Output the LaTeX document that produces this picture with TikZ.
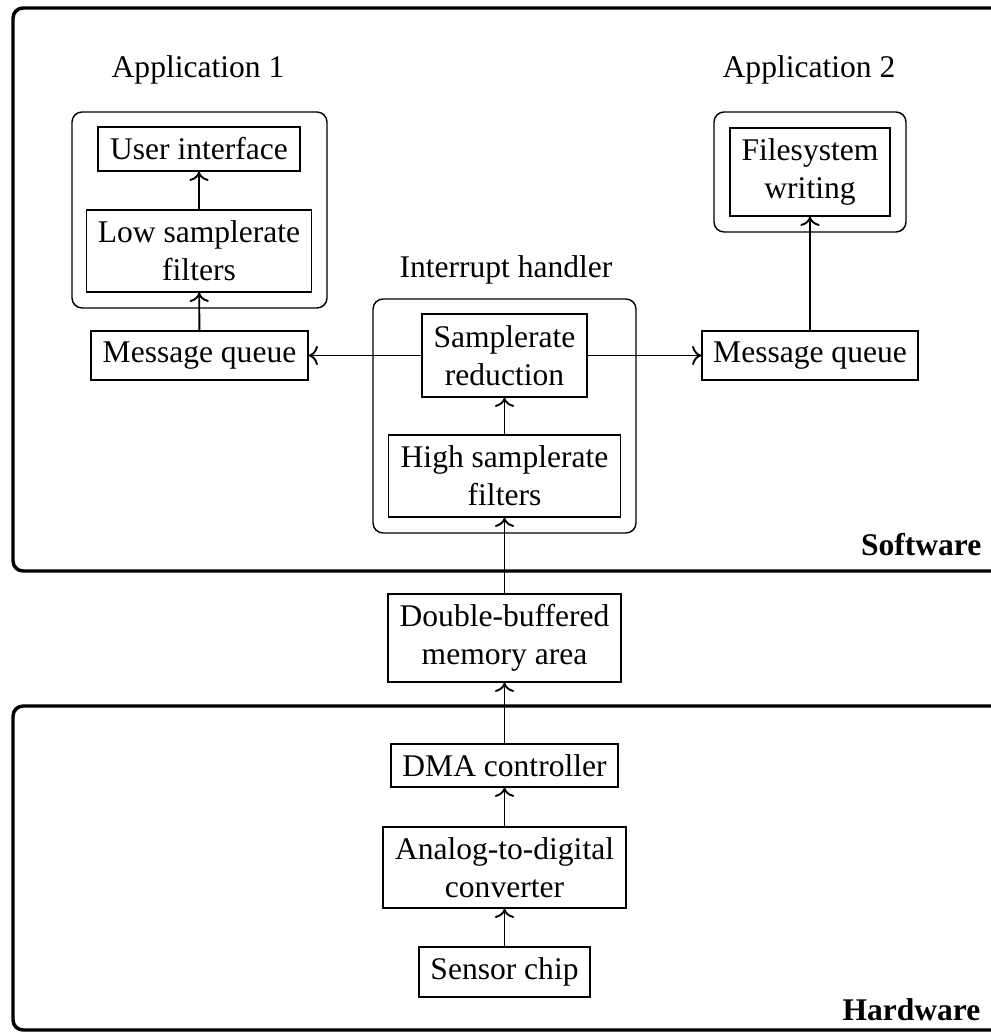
\documentclass[tikz,border=0pt]{standalone}
\usepackage{fontspec}
\setmainfont{Liberation Serif}
\usetikzlibrary{arrows.meta}
\begin{document}
\begin{tikzpicture}[x=0.317pt,y=-0.317pt,
  blk/.style={draw,line width=0.45pt,inner sep=0pt,align=center,
    font=\fontsize{10}{12}\selectfont},
  grp/.style={draw,line width=0.45pt,rounded corners=3.2pt},
  layer/.style={draw,line width=1.1pt,rounded corners=3.2pt},
  ttl/.style={anchor=base,inner sep=0pt,font=\fontsize{10}{12}\selectfont},
  lyr/.style={anchor=base east,inner sep=0pt,font=\fontsize{10}{12}\selectfont\bfseries},
  flow/.style={-{To},line width=0.6pt}]
\useasboundingbox (0,0) rectangle (990,1032);

% software and hardware layers (extending past the right border)
\draw[layer] (1030,8) -- (13,8) -- (13,571) -- (1030,571);
\draw[layer] (1030,706) -- (13,706) -- (13,1030) -- (1030,1030);
\node[lyr] (swlabel) at (982,555) {Software};
\node[lyr] (hwlabel) at (981,1020) {Hardware};

% group frames
\draw[grp] (72,112) rectangle (327,308);
\draw[grp] (714,112) rectangle (906,232);
\draw[grp] (373,299) rectangle (636,533);

% group titles
\node[ttl] (app1) at (198,78) {Application 1};
\node[ttl] (app2) at (809,78) {Application 2};
\node[ttl] (ih) at (506,278) {Interrupt handler};

% blocks
\node[blk,minimum width=64pt,minimum height=13.95pt] (ui) at (199,149) {User interface};
\node[blk,minimum width=71.3pt,minimum height=26pt] (lowf) at (199,251) {Low samplerate\\filters};
\node[blk,minimum width=68.8pt,minimum height=15.5pt] (mq1) at (199.5,355.5) {Message queue};
\node[blk,minimum width=50.7pt,minimum height=27.9pt] (fs) at (810,172) {Filesystem\\writing};
\node[blk,minimum width=68.5pt,minimum height=15.5pt] (mq2) at (810,355.5) {Message queue};
\node[blk,minimum width=52.3pt,minimum height=26.3pt] (sr) at (504.5,355.5) {Samplerate\\reduction};
\node[blk,minimum width=73.5pt,minimum height=26pt] (hf) at (504.5,476) {High samplerate\\filters};
\node[blk,minimum width=73.9pt,minimum height=27.9pt] (dbm) at (504.5,638) {Double-buffered\\memory area};
\node[blk,minimum width=72pt,minimum height=13.6pt] (dma) at (504.5,765.5) {DMA controller};
\node[blk,minimum width=77pt,minimum height=25.7pt] (adc) at (504.5,867.5) {Analog-to-digital\\converter};
\node[blk,minimum width=54.2pt,minimum height=15.9pt] (sensor) at (504.5,972) {Sensor chip};

% data flow
\draw[flow] (sensor) -- (adc);
\draw[flow] (adc) -- (dma);
\draw[flow] (dma) -- (dbm);
\draw[flow] (dbm) -- (hf);
\draw[flow] (hf) -- (sr);
\draw[flow] (sr) -- (mq1);
\draw[flow] (sr) -- (mq2);
\draw[flow] (mq1) -- (lowf);
\draw[flow] (lowf) -- (ui);
\draw[flow] (mq2) -- (fs);
\end{tikzpicture}
\end{document}
